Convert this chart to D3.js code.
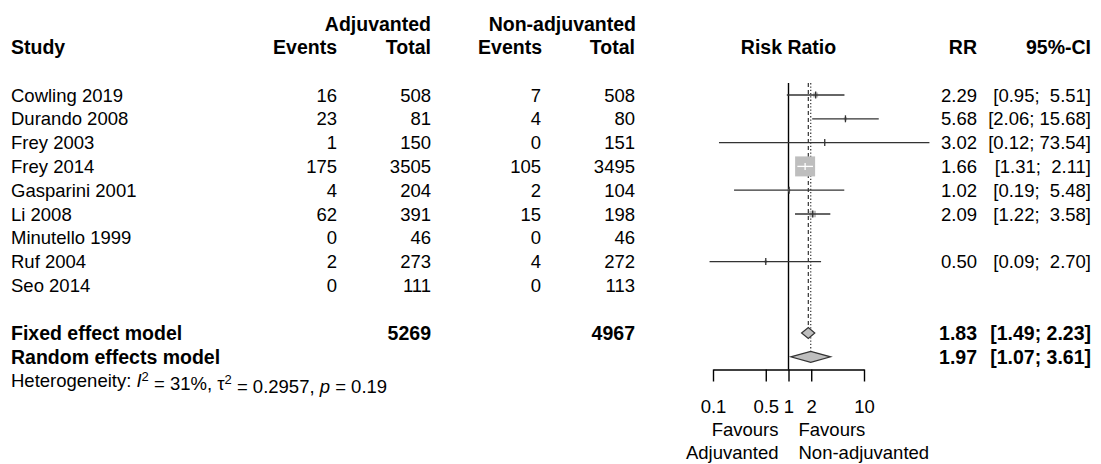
<!DOCTYPE html>
<html>
<meta charset="utf-8">
<style>
body { margin: 0; background: #fff; }
svg text { font-family: "Liberation Sans", Arial, sans-serif; font-size: 18.5px; fill: #000; white-space: pre; }
svg text.b { font-weight: bold; font-size: 19.5px; }
</style>
<body>
<svg width="1101" height="464"></svg>
<script src="https://cdn.jsdelivr.net/npm/d3@7"></script>
<script>

var studies = ["Cowling 2019", "Durando 2008", "Frey 2003", "Frey 2014", "Gasparini 2001",
               "Li 2008", "Minutello 1999", "Ruf 2004", "Seo 2014"];
var eventsAdj = [16, 23, 1, 175, 4, 62, 0, 2, 0];
var totalAdj  = [508, 81, 150, 3505, 204, 391, 46, 273, 111];
var eventsNon = [7, 4, 0, 105, 2, 15, 0, 4, 0];
var totalNon  = [508, 80, 151, 3495, 104, 198, 46, 272, 113];
var rr    = [2.29, 5.68, 3.02, 1.66, 1.02, 2.09, null, 0.50, null];
var lower = [0.95, 2.06, 0.12, 1.31, 0.19, 1.22, null, 0.09, null];
var upper = [5.51, 15.68, 73.54, 2.11, 5.48, 3.58, null, 2.70, null];
// square weights (%)
var weights = [4.5, 2.0, 0.4, 75.6, 1.2, 8.0, 0, 1.5, 0];

var pooledNames = ["Fixed effect model", "Random effects model"];
var pooledRR    = [1.83, 1.97];
var pooledLower = [1.49, 1.07];
var pooledUpper = [2.23, 3.61];
var pooledTotalAdj = 5269, pooledTotalNon = 4967;

var axisTicks = [0.1, 0.5, 1, 2, 10];

var svg = d3.select("svg");

var x = d3.scaleLog().domain([0.1, 10]).range([713, 864]);
// row index -> vertical centre
var row = d3.scaleLinear().domain([0, 1]).range([95, 118.8]);
var box = d3.scaleSqrt().domain([0, 75.6]).range([0, 20]);

var colStudy = 11, colEvA = 337, colToA = 431, colEvN = 541, colToN = 635,
    colRR = 977, colCI = 1091;

function txt(t, xx, yy, anchor, bold) {
  svg.append("text")
      .attr("class", bold ? "b" : null)
      .attr("x", xx)
      .attr("y", yy)
      .attr("dy", "0.36em")
      .attr("text-anchor", anchor)
      .text(t);
}

// headers
txt("Adjuvanted", colToA, row(-3), "end", true);
txt("Non-adjuvanted", colToN + 1, row(-3), "end", true);
txt("Study", colStudy, row(-2), "start", true);
txt("Events", colEvA, row(-2), "end", true);
txt("Total", colToA, row(-2), "end", true);
txt("Events", colEvN + 1, row(-2), "end", true);
txt("Total", colToN, row(-2), "end", true);
txt("Risk Ratio", x(1), row(-2), "middle", true);
txt("RR", colRR, row(-2), "end", true);
txt("95%-CI", colCI, row(-2), "end", true);

var f2 = d3.format(".2f");
var upW = d3.max(upper.filter(function(d) { return d != null; }), function(d) { return f2(d).length; });

studies.forEach(function(s, i) {
  var y = row(i);
  txt(s, colStudy, y, "start", false);
  txt(eventsAdj[i], colEvA, y, "end", false);
  txt(totalAdj[i], colToA, y, "end", false);
  txt(eventsNon[i], colEvN, y, "end", false);
  txt(totalNon[i], colToN, y, "end", false);
  if (rr[i] != null) {
    txt(f2(rr[i]), colRR, y, "end", false);
    txt("[" + f2(lower[i]) + "; " + f2(upper[i]).padStart(upW, " ") + "]", colCI, y, "end", false);
  }
});

// pooled rows
pooledNames.forEach(function(s, j) {
  var y = row(10 + j);
  txt(s, colStudy, y, "start", true);
  txt(f2(pooledRR[j]), colRR, y, "end", true);
  txt("[" + f2(pooledLower[j]) + "; " + f2(pooledUpper[j]) + "]", colCI, y, "end", true);
});
txt(pooledTotalAdj, colToA, row(10), "end", true);
txt(pooledTotalNon, colToN, row(10), "end", true);

// heterogeneity line
var het = svg.append("text").attr("x", colStudy).attr("y", row(12)).attr("dy", "0.36em");
het.append("tspan").text("Heterogeneity: ");
het.append("tspan").style("font-style", "italic").text("I");
het.append("tspan").attr("dy", "-0.5em").style("font-size", "13px").text("2");
het.append("tspan").attr("dy", "0.5em").text(" = 31%, \u03c4");
het.append("tspan").attr("dy", "-0.5em").style("font-size", "13px").text("2");
het.append("tspan").attr("dy", "0.5em").text(" = 0.2957, ");
het.append("tspan").style("font-style", "italic").text("p");
het.append("tspan").text(" = 0.19");

var plot = svg.append("g");
var yTop = row(-0.5), yAxis = 369.5;

// reference line at RR = 1
plot.append("line")
    .attr("x1", x(1)).attr("x2", x(1))
    .attr("y1", yTop).attr("y2", yAxis)
    .attr("stroke", "#000").attr("stroke-width", 1.4);

// fixed (dashed) and random (dotted) effect lines
plot.append("line")
    .attr("x1", x(pooledRR[0])).attr("x2", x(pooledRR[0]))
    .attr("y1", yTop).attr("y2", row(10) - 6)
    .attr("stroke", "#333").attr("stroke-width", 1.2)
    .attr("stroke-dasharray", "4,3");
plot.append("line")
    .attr("x1", x(pooledRR[1])).attr("x2", x(pooledRR[1]))
    .attr("y1", yTop).attr("y2", row(11) - 6)
    .attr("stroke", "#333").attr("stroke-width", 1.2)
    .attr("stroke-dasharray", "1.3,2");

// study squares and CIs
studies.forEach(function(s, i) {
  if (rr[i] == null) return;
  var y = row(i), cx = x(rr[i]), w = box(weights[i]);
  plot.append("rect")
      .attr("x", cx - w / 2).attr("y", y - w / 2)
      .attr("width", w).attr("height", w)
      .attr("fill", "#bebebe");
  var inside = x(lower[i]) >= cx - w / 2 && x(upper[i]) <= cx + w / 2;
  var col = inside ? "#fff" : "#333";
  plot.append("line")
      .attr("x1", x(lower[i])).attr("x2", x(upper[i]))
      .attr("y1", y).attr("y2", y)
      .attr("stroke", col).attr("stroke-width", 1.3);
  plot.append("line")
      .attr("x1", cx).attr("x2", cx)
      .attr("y1", y - 3.5).attr("y2", y + 3.5)
      .attr("stroke", col).attr("stroke-width", 1.3);
});

// diamonds
pooledRR.forEach(function(d, j) {
  var y = row(10 + j), h = 5.5;
  plot.append("path")
      .attr("d", "M" + x(pooledLower[j]) + "," + y +
                 "L" + x(d) + "," + (y - h) +
                 "L" + x(pooledUpper[j]) + "," + y +
                 "L" + x(d) + "," + (y + h) + "Z")
      .attr("fill", "#bebebe")
      .attr("stroke", "#333").attr("stroke-width", 1.2);
});

// axis
var axis = svg.append("g")
    .attr("transform", "translate(0," + yAxis + ")")
    .call(d3.axisBottom(x).tickValues(axisTicks).tickFormat(function(d) { return d; })
          .tickSize(12).tickSizeOuter(0).tickPadding(18));
axis.select(".domain").attr("stroke", "#000").attr("stroke-width", 1.4);
axis.selectAll(".tick line").attr("stroke", "#000").attr("stroke-width", 1.4);
axis.selectAll(".tick text").attr("font-family", null).attr("font-size", null).attr("fill", "#000");

txt("Favours", x(1) - 10, 429.5, "end", false);
txt("Adjuvanted", x(1) - 10, 452.5, "end", false);
txt("Favours", x(1) + 10, 429.5, "start", false);
txt("Non-adjuvanted", x(1) + 10, 452.5, "start", false);

</script>
</body>
</html>
